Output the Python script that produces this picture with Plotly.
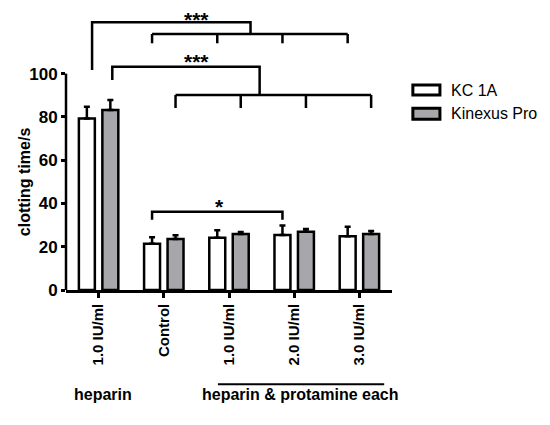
import plotly.graph_objects as go

# Werte
gruppen = ["1.0 IU/ml", "Control", "1.0 IU/ml", "2.0 IU/ml", "3.0 IU/ml"]
kc_mittel = [79.2, 21.4, 24.2, 25.4, 24.8]
kc_sd = [5.5, 3.0, 3.4, 4.4, 4.4]
kin_mittel = [83.2, 23.6, 25.9, 26.9, 25.9]
kin_sd = [4.6, 1.7, 0.9, 1.3, 1.4]

x = list(range(len(gruppen)))
schrift = "Liberation Sans, Arial, sans-serif"
grau = "#a6a6ab"
lw = 2.5

fig = go.Figure()
fig.add_trace(go.Bar(
    x=x, y=kc_mittel, name="KC 1A",
    marker=dict(color="white", line=dict(color="black", width=lw)),
    error_y=dict(type="data", symmetric=False, array=kc_sd, arrayminus=[0] * 5,
                 color="black", thickness=lw, width=3),
))
fig.add_trace(go.Bar(
    x=x, y=kin_mittel, name="Kinexus Pro",
    marker=dict(color=grau, line=dict(color="black", width=lw)),
    error_y=dict(type="data", symmetric=False, array=kin_sd, arrayminus=[0] * 5,
                 color="black", thickness=lw, width=3),
))

# Position der Balken innerhalb der Gruppe
off = 0.18
kc_pos = [i - off for i in x]
kin_pos = [i + off for i in x]

linie = dict(color="black", width=lw)
shapes = []


def klammer(links, y_links, y_oben, join, ziele, y_unter, y_fuss):
    # linkes Bein + obere Linie + Verbindung + untere Linie + Beine
    shapes.append(dict(type="path", xref="x", yref="y", line=linie,
                       path=f"M{links},{y_links} L{links},{y_oben} L{join},{y_oben} L{join},{y_unter}"))
    shapes.append(dict(type="line", xref="x", yref="y", line=linie,
                       x0=ziele[0], x1=ziele[-1], y0=y_unter, y1=y_unter))
    for z in ziele:
        shapes.append(dict(type="line", xref="x", yref="y", line=linie,
                           x0=z, x1=z, y0=y_unter, y1=y_fuss))


klammer(-0.10, 101.7, 123.7, 2.33, kc_pos[1:], 118.3, 114.0)
klammer(kin_pos[0] + 0.03, 97.0, 103.2, 2.47, kin_pos[1:], 90.1, 84.1)
# Control vs 2.0 IU/ml (KC 1A)
shapes.append(dict(type="path", xref="x", yref="y", line=linie,
                   path=f"M{kc_pos[1]},32.5 L{kc_pos[1]},36.2 L{kc_pos[3]},36.2 L{kc_pos[3]},32.5"))

# y-Achse nur bis 100
shapes.append(dict(type="line", xref="paper", yref="y", x0=0, x1=0, y0=0, y1=100, line=linie))

# Linie unter heparin & protamine
shapes.append(dict(type="line", xref="x", yref="paper", x0=1.83, x1=4.38,
                   y0=-0.34, y1=-0.34, line=dict(color="black", width=2)))

# eigene Legende
leg = [("KC 1A", "white", 0.740, 0.704), ("Kinexus Pro", grau, 0.656, 0.616)]
for name, farbe, y1, y0 in leg:
    shapes.append(dict(type="rect", xref="paper", yref="paper", x0=1.064, x1=1.147,
                       y0=y0, y1=y1, fillcolor=farbe, line=dict(color="black", width=3)))

annos = []
for name, farbe, y1, y0 in leg:
    annos.append(dict(text=name, xref="paper", yref="paper", x=1.175, y=(y0 + y1) / 2,
                      xanchor="left", yanchor="middle", showarrow=False,
                      font=dict(size=16, color="black", family=schrift)))

stern = dict(size=21, color="black", family=schrift)
annos.append(dict(text="<b>***</b>", x=1.5, y=123.7, xref="x", yref="y", yanchor="bottom",
                  yshift=-10, borderpad=0, showarrow=False, font=stern))
annos.append(dict(text="<b>***</b>", x=1.5, y=103.2, xref="x", yref="y", yanchor="bottom",
                  yshift=-8, showarrow=False, font=stern))
annos.append(dict(text="<b>*</b>", x=1.86, y=36.2, xref="x", yref="y", yanchor="bottom",
                  yshift=-8, showarrow=False, font=stern))

annos.append(dict(text="<b>clotting time/s</b>", xref="paper", yref="y", x=-0.16, y=50,
                  textangle=-90, showarrow=False, font=dict(size=16, color="black", family=schrift)))
annos.append(dict(text="<b>heparin</b>", xref="x", yref="paper", x=0.07, y=-0.415,
                  showarrow=False, font=dict(size=16, color="black", family=schrift)))
annos.append(dict(text="<b>heparin & protamine each</b>", xref="x", yref="paper", x=3.1, y=-0.415,
                  showarrow=False, font=dict(size=16, color="black", family=schrift)))

# Seite hat 8px Rand, daher Figur etwas kleiner und nach links/oben verschoben
fig.update_layout(
    width=542, height=417,
    margin=dict(l=58, r=158, t=5, b=135),
    paper_bgcolor="white", plot_bgcolor="white",
    barmode="group", bargap=0.28, bargroupgap=0.32,
    showlegend=False,
    font=dict(family=schrift, color="black"),
    shapes=shapes, annotations=annos,
    xaxis=dict(range=[-0.5, 4.5], tickvals=x, ticktext=[f"<b>{g}</b>" for g in gruppen],
               tickangle=-90, showline=True, linecolor="black", linewidth=lw,
               ticks="outside", ticklen=5, tickwidth=lw, tickcolor="black",
               showgrid=False, zeroline=False, tickfont=dict(size=15)),
    yaxis=dict(range=[0, 128], tickvals=[0, 20, 40, 60, 80, 100],
               ticktext=[f"<b>{v}</b>" for v in [0, 20, 40, 60, 80, 100]],
               showline=False, ticks="outside", ticklen=4, tickwidth=lw, tickcolor="black",
               showgrid=False, zeroline=False, tickfont=dict(size=17)),
)

fig.write_html("out.html")
